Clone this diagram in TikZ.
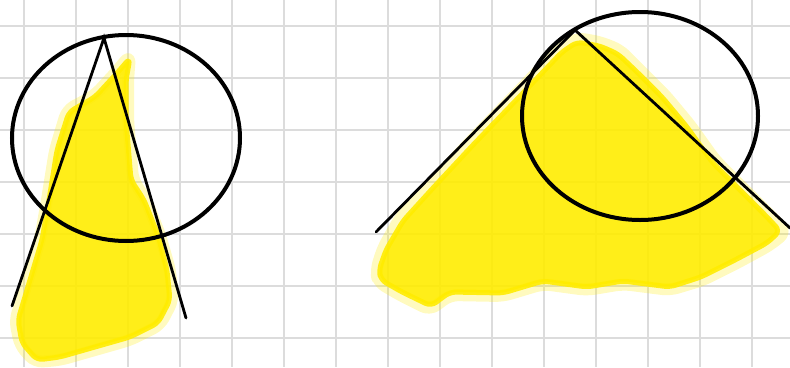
\documentclass[tikz,border=0pt]{standalone}
\usetikzlibrary{positioning}
\definecolor{gridgrey}{RGB}{220,220,220}
\definecolor{hlyellow}{RGB}{255,236,0}
\tikzset{
  gridline/.style={draw=gridgrey, line width=2pt},
  glow/.style={fill=hlyellow, draw=hlyellow, line width=5pt, line join=round,
               rounded corners=6pt, opacity=0.9},
  halo/.style={draw=hlyellow, line width=12pt, line join=round,
               rounded corners=8pt, opacity=0.25},
  rim/.style={draw=black, line width=4pt},
  ray/.style={draw=black, line width=2.8pt, line cap=round},
}

\begin{document}
\begin{tikzpicture}[x=1pt,y=-1pt]
\useasboundingbox (0,0) rectangle (790,367);
% squared paper
\foreach \gx in {24,76,...,752} \draw[gridline] (\gx,0) -- (\gx,367);
\foreach \gy in {26,78,...,338} \draw[gridline] (0,\gy) -- (790,\gy);

% left sketch
\coordinate (ctrL) at (126,138);
\coordinate (apexL) at (104,38);
\coordinate (footLl) at (12,306);
\coordinate (footLr) at (186,318);
\path[halo] (130,55) -- (118,70) -- (95,95) -- (67,110) -- (55,150) -- (47,200)
  -- (40,240) -- (25,290) -- (15,320) -- (20,345) -- (35,362) -- (60,360)
  -- (95,350) -- (130,340) -- (160,325) -- (173,300) -- (170,270) -- (160,235)
  -- (146,200) -- (133,180) -- (128,120) -- (128,80) -- cycle;
\path[glow] (130,58) -- (118,72) -- (95,97) -- (69,112) -- (57,150) -- (49,200)
  -- (42,240) -- (27,290) -- (18,320) -- (22,343) -- (37,360) -- (60,357)
  -- (95,347) -- (130,337) -- (158,323) -- (170,300) -- (167,270) -- (158,235)
  -- (144,200) -- (131,180) -- (126,120) -- (126,80) -- cycle;
\draw[rim] (ctrL) ellipse [x radius=114pt, y radius=103pt];
\draw[ray] (footLl) -- (apexL) -- (footLr);

% right sketch
\coordinate (ctrR) at (640,116);
\coordinate (apexR) at (575,30);
\coordinate (footRl) at (376,232);
\coordinate (footRr) at (790,228);
\path[halo] (577,38) -- (600,42) -- (620,50) -- (640,70) -- (665,95) -- (690,125)
  -- (715,160) -- (740,185) -- (770,215) -- (786,232) -- (770,245) -- (737,263)
  -- (703,280) -- (670,290) -- (623,284) -- (587,290) -- (543,284) -- (503,296)
  -- (450,295) -- (430,310) -- (400,295) -- (378,282) -- (376,270) -- (383,248)
  -- (400,218) -- (430,185) -- (470,142) -- (520,90) -- (560,48) -- cycle;
\path[glow] (577,42) -- (600,46) -- (618,54) -- (637,72) -- (662,97) -- (687,127)
  -- (712,162) -- (737,187) -- (766,216) -- (780,231) -- (767,243) -- (735,260)
  -- (701,277) -- (670,287) -- (623,281) -- (587,287) -- (543,281) -- (503,293)
  -- (450,292) -- (431,306) -- (402,292) -- (381,280) -- (379,270) -- (386,250)
  -- (403,221) -- (433,188) -- (473,145) -- (523,93) -- (562,52) -- cycle;
\draw[rim] (ctrR) ellipse [x radius=118pt, y radius=104pt];
\draw[ray] (footRl) -- (apexR) -- (footRr);
\end{tikzpicture}
\end{document}
